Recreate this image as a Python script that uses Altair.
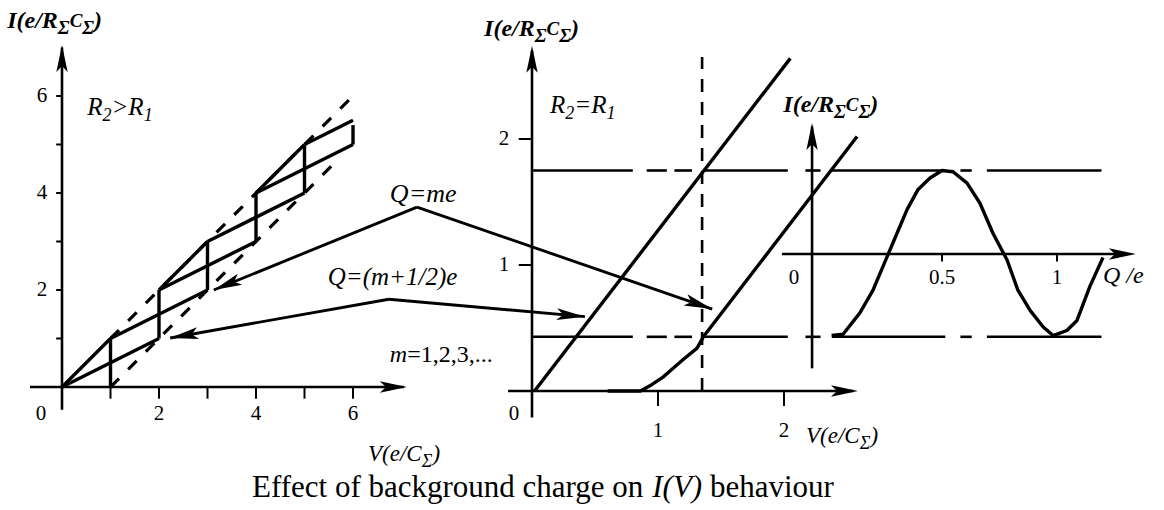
import math
import altair as alt
import pandas as pd

FONT = "Liberation Serif"

# ---- scale specs: (data domain, pixel range) for each panel ----
LEFT_V = ([0, 6], [62, 353])      # left panel, V in e/C_Σ
LEFT_I = ([0, 6], [387, 96])      # left panel, I in e/(R_Σ C_Σ)
MID_V = ([0, 2], [532, 784])      # middle panel
MID_I = ([0, 2], [391, 139])
INSET_Q = ([0, 1], [827, 1057])   # inset, Q/e (current axis shared with middle panel)

# ---- left panel (R2 > R1): solid pieces of the two staircases ----
STAIR_V = [[0, 1], [2, 3], [4, 5], [0, 2], [1, 3], [2, 4], [3, 5], [4, 6], [5, 6],
           [1, 1], [2, 2], [3, 3], [4, 4], [5, 5], [6, 6]]
STAIR_I = [[0, 1], [2, 3], [4, 5], [0, 1], [1, 2], [2, 3], [3, 4], [4, 5], [5, 5.5],
           [0, 1], [1, 2], [2, 3], [3, 4], [4, 5], [5, 5.4]]
# dashed envelopes I = V and I = V - 1
ENV_V = [[1, 6], [1, 5.6]]
ENV_I = [[1, 6], [0, 4.6]]
LEFT_TICKS = [1, 2, 3, 4, 5, 6]
LEFT_LABELS = [2, 4, 6]

# ---- middle panel (R2 = R1) ----
LINE_A_V = [0.02, 2.05]
LINE_A_I = [0.00, 2.64]
LINE_B_V = [0.60, 0.86, 0.95, 1.04, 1.12, 1.20, 1.31, 1.36, 2.58]
LINE_B_I = [0.00, 0.00, 0.05, 0.11, 0.18, 0.25, 0.34, 0.43, 2.02]
I_PEAK, I_VALLEY = 1.75, 0.43
LEVEL_PIECES = [(0.00, 0.80), (0.91, 1.07), (1.13, 1.27), (1.36, 2.03),
                (2.17, 2.29), (2.38, 3.28), (3.40, 3.49), (3.61, 4.52)]
V_MARK, V_MARK_TOP = 1.35, 2.65
MID_TICKS = [1, 2]

# ---- inset: current oscillation against background charge ----
OSC_Q = [0.02, 0.07, 0.143, 0.20, 0.26, 0.304, 0.348, 0.396, 0.448, 0.50, 0.548, 0.609,
         0.665, 0.722, 0.783, 0.83, 0.883, 0.939, 0.983, 1.043, 1.087, 1.143, 1.20]
OSC_I = [0.44, 0.45, 0.62, 0.80, 1.06, 1.25, 1.44, 1.60, 1.69, 1.75, 1.74, 1.65,
         1.49, 1.25, 1.04, 0.80, 0.64, 0.51, 0.44, 0.48, 0.56, 0.83, 1.06]
INSET_AXIS_I = 1.087
INSET_TICKS = [0.5, 1]
INSET_LABELS = ["0.5", "1"]

HEAD = "M0,0L0.42,2L0,1.55L-0.42,2Z"


def sc(spec):
    return alt.Scale(domain=spec[0], range=spec[1], nice=False, zero=False)


def to_px(spec, v):
    (d0, d1), (r0, r1) = spec
    return r0 + (v - d0) * (r1 - r0) / (d1 - d0)


def from_px(spec, p):
    (d0, d1), (r0, r1) = spec
    return d0 + (p - r0) * (d1 - d0) / (r1 - r0)


def enc(xs, ys):
    return dict(x=alt.X("x:Q", scale=sc(xs), axis=None),
                y=alt.Y("y:Q", scale=sc(ys), axis=None))


def lines(polys, xs, ys, width=3.0, dash=None):
    rows = []
    for i, pts in enumerate(polys):
        for k, (x, y) in enumerate(pts):
            rows.append({"x": x, "y": y, "seg": i, "k": k})
    kw = dict(color="black", strokeWidth=width, strokeCap="butt", strokeJoin="round")
    if dash:
        kw["strokeDash"] = dash
    return alt.Chart(pd.DataFrame(rows)).mark_line(**kw).encode(
        detail="seg:N", order="k:Q", **enc(xs, ys))


def heads(tips, xs, ys, size=729):
    rows = []
    for x, y, fx, fy in tips:
        dx = to_px(xs, x) - to_px(xs, fx)
        dy = to_px(ys, y) - to_px(ys, fy)
        rows.append({"x": x, "y": y, "a": math.degrees(math.atan2(dx, -dy)) % 360})
    return alt.Chart(pd.DataFrame(rows)).mark_point(
        shape=HEAD, filled=True, color="black", opacity=1, size=size, strokeWidth=0
    ).encode(angle=alt.Angle("a:Q", scale=None), **enc(xs, ys))


def txt(rows, xs, ys, size, dx=0, dy=0, align="center", baseline="middle",
        style="normal", weight="normal"):
    return alt.Chart(pd.DataFrame(rows)).mark_text(
        font=FONT, fontSize=size, fontStyle=style, fontWeight=weight, align=align,
        baseline=baseline, dx=dx, dy=dy, color="black"
    ).encode(text="t:N", **enc(xs, ys))


# approximate advance widths (em) of the serif face
W_REG = {"E": .611, "f": .333, "e": .444, "c": .444, "t": .278, " ": .25, "o": .5,
         "b": .5, "a": .444, "k": .5, "g": .5, "r": .333, "u": .5, "n": .5, "d": .5,
         "h": .5, "v": .5, "i": .278, "=": .564, ",": .25, ".": .25}
W_ITA = {"I": .333, "(": .333, ")": .333, "V": .611, "e": .444, "/": .278, "R": .611,
         "C": .667, "Σ": .6, "Q": .722, "=": .675, "m": .722, "+": .675, ",": .25,
         ".": .25, ">": .675, " ": .25}
W_BOLD_ITA = {"I": .389, "(": .333, ")": .333, "V": .667, "e": .444, "/": .278, "R": .667,
              "C": .667, "Σ": .62, " ": .25}


def width(text, size, style, weight="normal"):
    if style == "italic":
        table = W_BOLD_ITA if weight == "bold" else W_ITA
    else:
        table = W_REG
    return sum(table.get(c, 0.5) for c in text) * size


def rich(pieces, x, y, xs, ys, start=0.0, weight="normal"):
    """Run of text pieces laid out left to right; spaces become explicit advances."""
    out = []
    off = start
    for text, size, lift, style in pieces:
        body = text.strip()
        lead = text[: len(text) - len(text.lstrip())]
        off += width(lead, size, style, weight)
        out.append(txt([{"x": x, "y": y, "t": body}], xs, ys, size, dx=off, dy=lift,
                       align="left", baseline="alphabetic", style=style, weight=weight))
        off += width(text.lstrip(), size, style, weight)
    return out


I_TITLE = [("I(e/R", 24, 0, "italic"), ("Σ", 19, 6, "italic"), ("C", 19, -1, "italic"),
           ("Σ", 19, 6, "italic"), (")", 24, 0, "italic")]
V_TITLE = [("V(e/C", 23, 0, "italic"), ("Σ", 18, 6, "italic"), (")", 23, 0, "italic")]


def r_label(rel):
    return [("R", 25, 0, "italic"), ("2", 18, 6, "italic"), (rel + "R", 25, 0, "italic"),
            ("1", 18, 6, "italic")]


layers = []

# ================= left panel =================
layers.append(lines([[(-0.66, 0), (7.05, 0)], [(0, -0.47), (0, 7.0)]], LEFT_V, LEFT_I, 2.6))
layers.append(lines([[(t, 0), (t, -0.24)] for t in LEFT_TICKS] +
                    [[(0, t), (-0.12, t)] for t in LEFT_TICKS], LEFT_V, LEFT_I, 2.0))
layers.append(heads([(7.11, 0, 0, 0), (0, 7.05, 0, 0)], LEFT_V, LEFT_I))
layers.append(lines([list(zip(v, i)) for v, i in zip(ENV_V, ENV_I)], LEFT_V, LEFT_I, 3.2, [12, 13]))
layers.append(lines([list(zip(v, i)) for v, i in zip(STAIR_V, STAIR_I)], LEFT_V, LEFT_I, 3.4))
layers.append(txt([{"x": 0, "y": t, "t": str(t)} for t in LEFT_LABELS], LEFT_V, LEFT_I, 21, dx=-20))
layers.append(txt([{"x": t, "y": 0, "t": str(t)} for t in LEFT_LABELS], LEFT_V, LEFT_I, 21, dy=27))
layers.append(txt([{"x": 0, "y": 0, "t": "0"}], LEFT_V, LEFT_I, 21, dx=-21, dy=27))
layers += rich(I_TITLE, -1.13, 7.40, LEFT_V, LEFT_I, weight="bold")
layers += rich(r_label(">"), 0.52, 5.61, LEFT_V, LEFT_I)
layers += rich(V_TITLE, 6.31, -1.52, LEFT_V, LEFT_I)

# ================= middle panel =================
layers.append(lines([[(-0.19, 0), (2.55, 0)], [(0, -0.21), (0, 2.7)]], MID_V, MID_I, 2.6))
layers.append(lines([[(t, 0), (t, -0.12)] for t in MID_TICKS] +
                    [[(0, t), (-0.105, t)] for t in MID_TICKS], MID_V, MID_I, 2.0))
layers.append(heads([(2.587, 0, 0, 0), (0, 2.74, 0, 0)], MID_V, MID_I))
layers.append(lines([[(V_MARK, 0), (V_MARK, V_MARK_TOP)]], MID_V, MID_I, 2.6, [13, 10]))
layers.append(lines([[(a, lvl), (b, lvl)] for lvl in (I_PEAK, I_VALLEY) for a, b in LEVEL_PIECES],
                    MID_V, MID_I, 2.6))
layers.append(lines([list(zip(LINE_A_V, LINE_A_I)), list(zip(LINE_B_V, LINE_B_I))], MID_V, MID_I, 3.4))
layers.append(txt([{"x": 0, "y": t, "t": str(t)} for t in MID_TICKS], MID_V, MID_I, 21, dx=-28))
layers.append(txt([{"x": t, "y": 0, "t": str(t)} for t in MID_TICKS], MID_V, MID_I, 21, dy=40))
layers.append(txt([{"x": 0, "y": 0, "t": "0"}], MID_V, MID_I, 21, dx=-18, dy=23))
layers += rich(I_TITLE, -0.38, 2.817, MID_V, MID_I, weight="bold")
layers += rich(r_label("="), 0.143, 2.206, MID_V, MID_I)
layers += rich(V_TITLE, 2.175, -0.41, MID_V, MID_I)

# ================= inset: I against Q =================
layers.append(lines([[(-0.196, INSET_AXIS_I), (1.30, INSET_AXIS_I)],
                     [(-0.065, 0.18), (-0.065, 2.10)]], INSET_Q, MID_I, 2.6))
layers.append(lines([[(t, INSET_AXIS_I), (t, INSET_AXIS_I - 0.06)] for t in INSET_TICKS],
                    INSET_Q, MID_I, 2.0))
layers.append(heads([(1.343, INSET_AXIS_I, 0, INSET_AXIS_I), (-0.065, 2.127, -0.065, 0)],
                    INSET_Q, MID_I))
layers.append(lines([list(zip(OSC_Q, OSC_I))], INSET_Q, MID_I, 3.4))
layers.append(txt([{"x": q, "y": INSET_AXIS_I, "t": s} for q, s in zip(INSET_TICKS, INSET_LABELS)],
                  INSET_Q, MID_I, 21, dy=24))
layers.append(txt([{"x": 0, "y": INSET_AXIS_I, "t": "0"}], INSET_Q, MID_I, 21, dx=-33, dy=24))
layers += rich(I_TITLE, -0.19, 2.214, INSET_Q, MID_I, weight="bold")
layers += rich([("Q", 24, 0, "italic"), (" /e", 24, 0, "italic")], 1.20, 0.857, INSET_Q, MID_I)

# ================= background-charge arrows =================
ARROWS = [
    # apex (left-panel units), tip in left panel, tip in middle panel
    ((7.32, 3.71), (3.13, 2.00), (1.43, 0.65)),
    ((6.74, 1.81), (2.23, 1.01), (0.42, 0.59)),
]
left_polys, mid_polys, left_tips, mid_tips = [], [], [], []
for apex, lt, mt in ARROWS:
    apex_mid = (from_px(MID_V, to_px(LEFT_V, apex[0])), from_px(MID_I, to_px(LEFT_I, apex[1])))
    left_polys.append([apex, lt])
    mid_polys.append([apex_mid, mt])
    left_tips.append((lt[0], lt[1], apex[0], apex[1]))
    mid_tips.append((mt[0], mt[1], apex_mid[0], apex_mid[1]))
layers.append(lines(left_polys, LEFT_V, LEFT_I, 2.9))
layers.append(lines(mid_polys, MID_V, MID_I, 2.9))
layers.append(heads(left_tips, LEFT_V, LEFT_I, 800))
layers.append(heads(mid_tips, MID_V, MID_I, 800))

layers += rich([("Q=me", 26, 0, "italic")], 6.76, 3.81, LEFT_V, LEFT_I)
layers += rich([("Q=(m+1/2)e", 25, 0, "italic")], 5.48, 2.10, LEFT_V, LEFT_I)
layers += rich([("m", 24, 0, "italic"), ("=1,2,3,...", 24, 0, "normal")], 6.76, 0.52, LEFT_V, LEFT_I)

# ================= caption =================
CAPTION = [("Effect of background charge on", 31, 0, "normal"), (" I(V)", 31, 0, "italic"),
           (" behaviour", 31, 0, "normal")]
cap_w = sum(width(t, s, st) for t, s, _, st in CAPTION)
layers += rich(CAPTION, 0.087, -0.84, MID_V, MID_I, start=-cap_w / 2)

chart = alt.layer(*layers).resolve_scale(x="independent", y="independent").properties(
    width=1164, height=510, autosize=alt.AutoSizeParams(type="none"), padding=0,
    background="white"
).configure_view(strokeWidth=0)

chart.save("out.html", embed_options={"renderer": "svg", "actions": False})
